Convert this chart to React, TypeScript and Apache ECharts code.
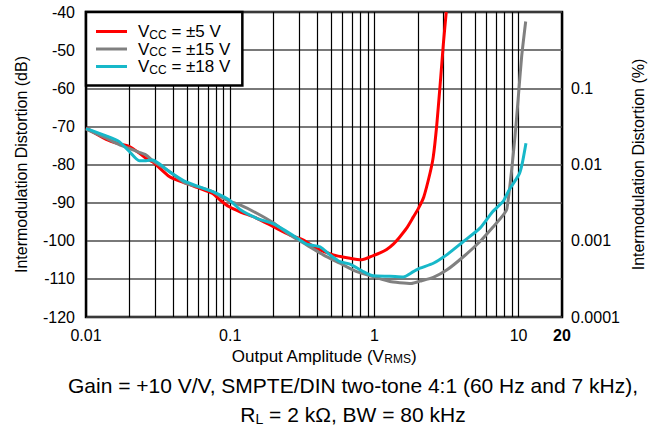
import React, { useEffect, useRef } from 'react';
import * as echarts from 'echarts';

// Supply voltages (legend labels) and colours
const supplyLabels = ['±5 V', '±15 V', '±18 V'];
const seriesColors = ['#ff0000', '#808080', '#17b8c9'];

// VCC = ±5 V : output amplitude (VRMS) and IMD (dB)
const amp5 = [0.01, 0.0138, 0.017, 0.02, 0.0234, 0.0261, 0.029, 0.038, 0.049, 0.062, 0.0756, 0.085, 0.0986, 0.117, 0.153, 0.199, 0.26, 0.322, 0.398, 0.519, 0.677, 0.816, 0.983, 1.094, 1.216, 1.353, 1.5, 1.673, 1.86, 2.02, 2.2, 2.43, 2.56, 2.7, 2.85, 3.01, 3.15];
const imd5 = [-70.4, -73.4, -74.6, -75.3, -77.0, -78.4, -79.3, -83.2, -84.9, -86.3, -87.6, -89.3, -91.1, -92.4, -94.1, -96.3, -98.5, -99.8, -102.0, -103.7, -104.6, -105.0, -103.9, -103.2, -102.3, -100.9, -99.0, -96.7, -93.8, -91.5, -88.5, -82.3, -78.0, -70.1, -59.6, -48.2, -40.0];

// VCC = ±15 V
const amp15 = [0.01, 0.0138, 0.017, 0.02, 0.0234, 0.0261, 0.029, 0.038, 0.049, 0.062, 0.0756, 0.085, 0.0986, 0.117, 0.153, 0.199, 0.26, 0.339, 0.442, 0.577, 0.754, 0.983, 1.283, 1.5, 1.8, 2.07, 2.56, 3.17, 4.14, 5.4, 6.68, 7.84, 8.3, 8.95, 9.44, 9.96, 10.5, 11.2];
const imd15 = [-70.7, -73.1, -74.8, -75.8, -76.8, -77.5, -79.0, -81.9, -84.9, -86.0, -87.1, -88.3, -89.6, -90.6, -92.8, -95.3, -98.5, -101.1, -103.7, -105.9, -108.1, -109.4, -110.7, -111.0, -111.2, -110.6, -109.6, -107.7, -104.2, -100.2, -96.3, -93.2, -91.6, -81.4, -72.7, -62.2, -51.7, -42.5];

// VCC = ±18 V
const amp18 = [0.01, 0.0138, 0.017, 0.02, 0.0234, 0.0261, 0.029, 0.038, 0.049, 0.0756, 0.0986, 0.117, 0.153, 0.199, 0.26, 0.339, 0.42, 0.492, 0.577, 0.677, 0.838, 0.983, 1.283, 1.587, 1.862, 2.071, 2.563, 3.17, 4.14, 5.4, 6.6, 7.84, 8.5, 10.1, 10.6, 11.25];
const imd18 = [-70.5, -72.5, -74.0, -76.6, -79.0, -79.0, -78.8, -81.9, -84.5, -87.1, -89.3, -91.8, -94.1, -95.6, -98.1, -100.9, -101.6, -103.7, -105.5, -106.1, -108.1, -109.2, -109.3, -109.5, -108.1, -107.2, -105.9, -103.7, -100.2, -96.7, -92.4, -89.6, -87.0, -82.5, -79.7, -74.4];

// Minor vertical grid positions on the log axis
const minorGridX = [0.02, 0.03, 0.04, 0.05, 0.06, 0.07, 0.08, 0.09, 0.2, 0.3, 0.4, 0.5, 0.6, 0.7, 0.8, 0.9, 2, 3, 4, 5, 6, 7, 8, 9];

const captionLine1 = 'Gain = +10 V/V, SMPTE/DIN two-tone 4:1 (60 Hz and 7 kHz),';
const captionLine2 = ' = 2 kΩ, BW = 80 kHz';

export default function App() {
  const ref = useRef<HTMLDivElement>(null);
  useEffect(() => {
    if (!ref.current) return;
    const chart = echarts.init(ref.current, null, { renderer: 'svg' });
    const font = 'Arial, "Liberation Sans", Helvetica, sans-serif';
    const zip = (a: number[], b: number[]) => a.map((x, i) => [x, b[i]]);
    const datasets = [zip(amp5, imd5), zip(amp15, imd15), zip(amp18, imd18)];

    const series: any[] = supplyLabels.map((name, i) => ({
      name,
      type: 'line',
      yAxisIndex: 0,
      data: datasets[i],
      symbol: 'none',
      showSymbol: false,
      smooth: 0.2,
      clip: true,
      z: 3 + i,
      lineStyle: { width: 3, color: seriesColors[i] },
      itemStyle: { color: seriesColors[i] },
    }));
    series[0].markLine = {
      silent: true,
      symbol: 'none',
      z: 1,
      label: { show: false },
      lineStyle: { color: '#000', width: 1.2, type: 'solid' },
      emphasis: { disabled: true },
      data: minorGridX.map((v) => ({ xAxis: v })),
    };

    chart.setOption({
      animation: false,
      backgroundColor: '#fff',
      textStyle: { fontFamily: font, color: '#000' },
      grid: {
        left: 86, top: 12, width: 476, height: 305,
        show: true, borderColor: '#000', borderWidth: 2.5, backgroundColor: 'transparent',
      },
      legend: {
        data: supplyLabels,
        orient: 'vertical',
        left: 86, top: 12,
        padding: [11, 12, 10, 10],
        itemGap: 0,
        itemWidth: 31,
        itemHeight: 3,
        icon: 'rect',
        backgroundColor: '#fff',
        borderColor: '#000',
        borderWidth: 2.5,
        borderRadius: 0,
        selectedMode: false,
        formatter: (name: string) => `{v0|V}{s|CC}{v| = ${name}}`,
        textStyle: {
          fontFamily: font,
          color: '#000',
          rich: {
            v0: { fontSize: 17, color: '#000', fontFamily: font, lineHeight: 18, padding: [0, 0, 0, 6] },
            v: { fontSize: 17, color: '#000', fontFamily: font, lineHeight: 18 },
            s: { fontSize: 12, color: '#000', fontFamily: font, lineHeight: 18, verticalAlign: 'bottom' },
          },
        },
      },
      xAxis: {
        type: 'log',
        logBase: 10,
        min: 0.01,
        max: 20,
        axisLine: { show: false },
        axisTick: { show: false },
        splitLine: { show: true, lineStyle: { color: '#000', width: 1.2 } },
        axisLabel: {
          fontSize: 16, color: '#000', margin: 10, fontFamily: font,
          showMinLabel: true, showMaxLabel: true,
          formatter: (v: number) => {
            if (v > 15) return '{b|20}';
            if (v >= 1) return String(Math.round(v));
            return String(Number(v.toPrecision(1)));
          },
          rich: { b: { fontSize: 16, fontWeight: 'bold', color: '#000', fontFamily: font } },
        },
        name: '{n|Output Amplitude (V}{s|RMS}{n|)}',
        nameLocation: 'middle',
        nameGap: 25,
        nameTextStyle: {
          rich: {
            n: { fontSize: 17, color: '#000', fontFamily: font, lineHeight: 18 },
            s: { fontSize: 12, color: '#000', fontFamily: font, lineHeight: 18, verticalAlign: 'bottom' },
          },
        },
      },
      yAxis: [
        {
          type: 'value',
          min: -120,
          max: -40,
          interval: 10,
          position: 'left',
          axisLine: { show: false },
          axisTick: { show: false },
          splitLine: { show: true, lineStyle: { color: '#4d4d4d', width: 1.6 } },
          axisLabel: { fontSize: 16, color: '#000', margin: 11, fontFamily: font },
          name: 'Intermodulation Distortion (dB)',
          nameLocation: 'middle',
          nameGap: 57,
          nameTextStyle: { fontSize: 16, color: '#000', fontFamily: font },
        },
        {
          type: 'log',
          logBase: 10,
          min: 0.0001,
          max: 1,
          position: 'right',
          axisLine: { show: false },
          axisTick: { show: false },
          splitLine: { show: false },
          axisLabel: {
            fontSize: 16, color: '#000', margin: 9, fontFamily: font,
            formatter: (v: number) => (v > 0.5 ? '' : String(Number(v.toPrecision(1)))),
          },
          name: 'Intermodulation Distortion (%)',
          nameLocation: 'middle',
          nameGap: 62,
          nameTextStyle: { fontSize: 16, color: '#000', fontFamily: font },
        },
      ],
      graphic: [
        {
          type: 'text',
          x: 353,
          y: 385,
          silent: true,
          style: {
            text: captionLine1,
            fontSize: 21,
            fontFamily: font,
            fill: '#000',
            align: 'center',
            verticalAlign: 'middle',
          },
        },
        {
          type: 'text',
          x: 353,
          y: 414,
          silent: true,
          style: {
            text: `{r|R}{s|L}{r|${captionLine2}}`,
            fontSize: 21,
            fontFamily: font,
            fill: '#000',
            align: 'center',
            verticalAlign: 'middle',
            rich: {
              r: { fontSize: 21, fontFamily: font, fill: '#000', lineHeight: 24 },
              s: { fontSize: 14, fontFamily: font, fill: '#000', lineHeight: 24, verticalAlign: 'bottom' },
            },
          },
        },
      ],
      series,
    });
    return () => chart.dispose();
  }, []);
  return (
    <div
      ref={ref}
      style={{ position: 'absolute', left: 0, top: 0, width: 661, height: 429, background: '#fff' }}
    />
  );
}
